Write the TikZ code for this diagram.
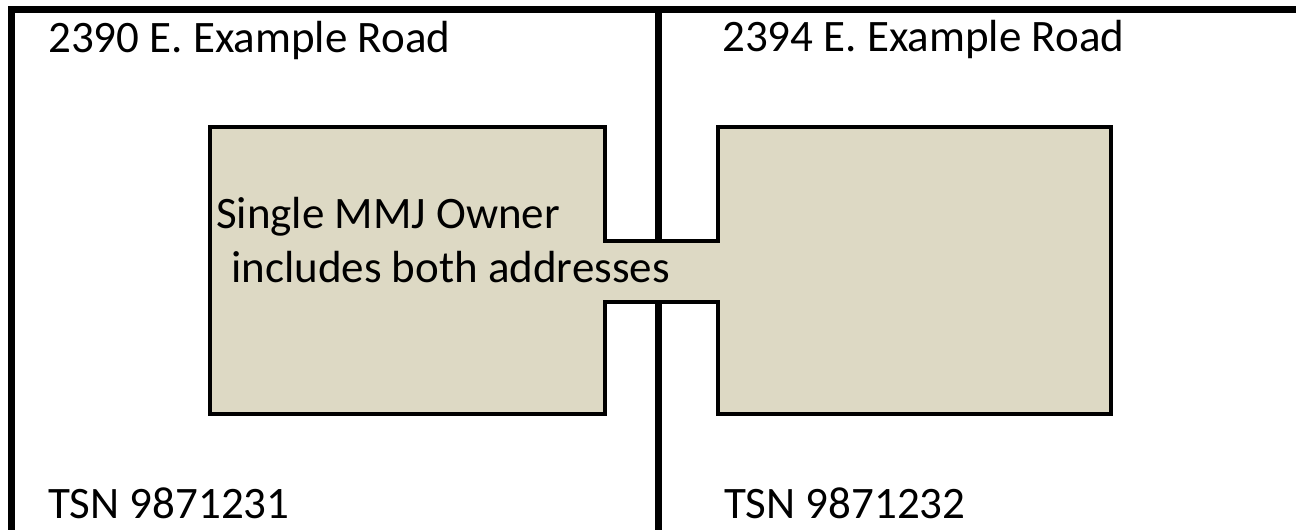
\documentclass[tikz,border=0pt]{standalone}
\usepackage{fontspec}
\setmainfont{Carlito}
\definecolor{lotfill}{RGB}{221,217,196}
\begin{document}
\begin{tikzpicture}[x=1pt,y=-1pt,
  frame/.style={line width=7pt, line join=miter},
  lot/.style={draw=black, line width=4pt, fill=lotfill, line join=miter},
  lbl/.style={anchor=base west, inner sep=0pt, font=\fontsize{45}{54}\selectfont}]
\useasboundingbox (0,0) rectangle (1296,530);
% outer frame (open at right and bottom)
\coordinate (fbl) at (11.5,530);
\coordinate (ftl) at (11.5,9.5);
\coordinate (ftr) at (1296,9.5);
\draw[frame] (fbl) -- (ftl) -- (ftr);
% property divider
\coordinate (dtop) at (658,9.5);
\coordinate (dbot) at (658,530);
\draw[frame] (dtop) -- (dbot);
% combined lot shape
\draw[lot] (209.5,127) -- (605,127) -- (605,240.5) -- (717.5,240.5) -- (717.5,127)
  -- (1111,127) -- (1111,414) -- (717.5,414) -- (717.5,301.5) -- (605,301.5)
  -- (605,414) -- (209.5,414) -- cycle;
% labels
\node[lbl] (addrL) at (48,52) {2390 E. Example Road};
\node[lbl] (addrR) at (722,51) {2394 E. Example Road};
\node[lbl] (tsnL) at (48,518) {TSN 9871231};
\node[lbl] (tsnR) at (724,518) {TSN 9871232};
\node[lbl] (own1) at (216,228) {Single MMJ Owner};
\node[lbl] (own2) at (231,282) {includes both addresses};
\end{tikzpicture}
\end{document}
